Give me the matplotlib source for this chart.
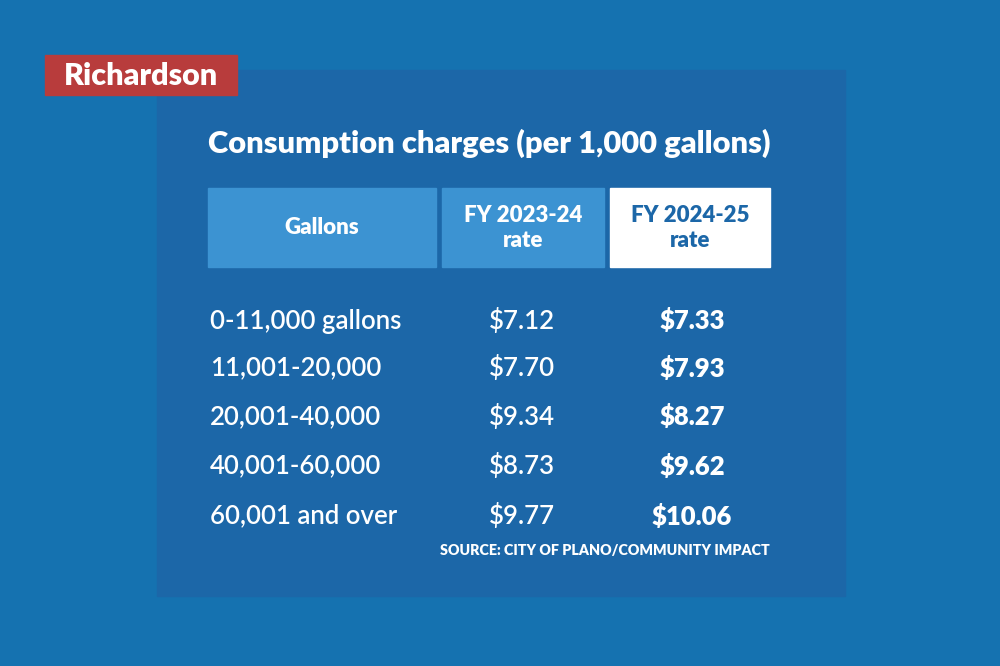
import matplotlib
matplotlib.use("Agg")
import matplotlib.pyplot as plt
from matplotlib.patches import Rectangle

title = "Consumption charges (per 1,000 gallons)"
headers = ["Gallons", "FY 2023-24\nrate", "FY 2024-25\nrate"]
gallons = ["0-11,000 gallons", "11,001-20,000", "20,001-40,000", "40,001-60,000", "60,001 and over"]
rate_2324 = ["$7.12", "$7.70", "$9.34", "$8.73", "$9.77"]
rate_2425 = ["$7.33", "$7.93", "$8.27", "$9.62", "$10.06"]
source = "SOURCE: CITY OF PLANO/COMMUNITY IMPACT"
label = "Richardson"

fig = plt.figure(figsize=(10, 6.66), dpi=100)
fig.patch.set_facecolor("#1572b0")
ax = fig.add_axes([0, 0, 1, 1])
ax.set_xlim(0, 1000); ax.set_ylim(666, 0); ax.axis("off")
ax.set_facecolor("#1572b0")

ax.add_patch(Rectangle((157, 70), 688, 526, color="#1c67a8"))
ax.add_patch(Rectangle((45, 55), 192, 40, color="#b83c3c"))
ax.text(141, 76, label, color="white", fontsize=22, fontweight="heavy", ha="center", va="center", family="Lato")

ax.text(208, 143, title, color="white", fontsize=22.2, fontweight="heavy", ha="left", va="center", family="Lato")

cells = [(208, 436, "#3c93d2", "white"), (442, 604, "#3c93d2", "white"), (610, 770, "white", "#1c67a8")]
for (x0, x1, fc, tc), h in zip(cells, headers):
    ax.add_patch(Rectangle((x0, 188), x1 - x0, 79, color=fc))
    ax.text((x0 + x1) / 2, 228, h, color=tc, fontsize=16, fontweight="heavy", ha="center", va="center",
            family="Lato", linespacing=1.25)

ys = [321, 368, 417, 466, 516]
for y, g, a, b in zip(ys, gallons, rate_2324, rate_2425):
    ax.text(210, y, g, color="white", fontsize=18.5, fontweight="semibold", ha="left", va="center", family="Lato")
    ax.text(522, y, a, color="white", fontsize=18.5, fontweight="semibold", ha="center", va="center", family="Lato")
    ax.text(692, y, b, color="white", fontsize=18.5, fontweight="heavy", ha="center", va="center", family="Lato")

ax.text(770, 551, source, color="white", fontsize=10.3, fontweight="heavy", ha="right", va="center", family="Lato")

fig.savefig("out.png", dpi=100, facecolor=fig.get_facecolor())
